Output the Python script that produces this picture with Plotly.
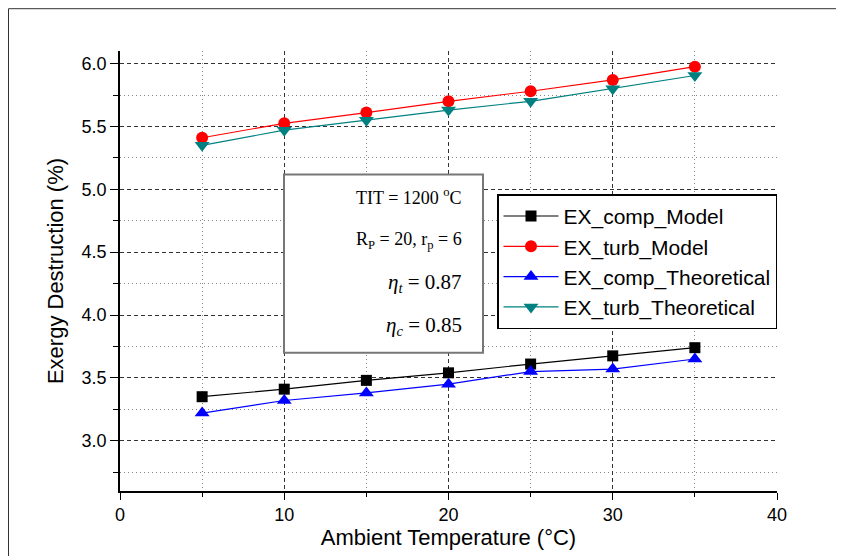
import plotly.graph_objects as go

temps = [5, 10, 15, 20, 25, 30, 35]
ex_comp_model = [3.35, 3.41, 3.48, 3.54, 3.61, 3.675, 3.74]
ex_turb_model = [5.41, 5.525, 5.61, 5.70, 5.78, 5.87, 5.975]
ex_comp_theo = [3.22, 3.32, 3.38, 3.45, 3.55, 3.57, 3.65]
ex_turb_theo = [5.35, 5.47, 5.55, 5.63, 5.70, 5.80, 5.905]

series = [
    ("EX_comp_Model", ex_comp_model, "black", "square", 11),
    ("EX_turb_Model", ex_turb_model, "red", "circle", 12),
    ("EX_comp_Theoretical", ex_comp_theo, "blue", "triangle-up", 13),
    ("EX_turb_Theoretical", ex_turb_theo, "#008080", "triangle-down", 13),
]

fig = go.Figure()
for name, vals, col, sym, sz in series:
    fig.add_trace(go.Scatter(
        x=temps, y=vals, name=name, mode="lines+markers",
        line=dict(color=col, width=1.2),
        marker=dict(color=col, symbol=sym, size=sz),
    ))

# page body has an 8px margin; figure coordinates are window - 8
OFF = 8
W, H = 836, 548
L, T = 120 - OFF, 51 - OFF
R = W - (777 - OFF)
B = H - (493 - OFF)
pw, ph = W - L - R, H - T - B

def px(x):
    return (x - OFF - L) / pw

def py(y):
    return (H - B - (y - OFF)) / ph

fig.update_layout(
    width=W, height=H,
    margin=dict(l=L, r=R, t=T, b=B),
    paper_bgcolor="white", plot_bgcolor="white",
    font=dict(family="Liberation Sans, Arial, sans-serif", color="black"),
    showlegend=True,
    legend=dict(
        x=px(497), y=py(195), xanchor="left", yanchor="top",
        bordercolor="black", borderwidth=1.5, bgcolor="white",
        font=dict(size=21, family="Liberation Sans, Arial, sans-serif"),
        tracegroupgap=0, itemwidth=55,
    ),
)

MAJ_DASH = "4px,3px"
MIN_DASH = "1px,3px"

fig.update_xaxes(
    range=[0, 40], tickmode="linear", tick0=0, dtick=10,
    showline=True, linecolor="black", linewidth=1.5,
    ticks="outside", ticklen=7, tickwidth=1.2, tickcolor="black",
    tickfont=dict(size=18),
    showgrid=True, gridcolor="#333", griddash=MAJ_DASH, gridwidth=1,
    zeroline=False,
    minor=dict(dtick=5, tick0=0, ticks="outside", ticklen=4, tickcolor="black",
               showgrid=True, gridcolor="#888", griddash=MIN_DASH, gridwidth=1),
    title=dict(text="Ambient Temperature (°C)", font=dict(size=22), standoff=3),
)
fig.update_yaxes(
    range=[2.6, 6.1], tickmode="linear", tick0=3.0, dtick=0.5, tickformat=".1f",
    showline=True, linecolor="black", linewidth=1.5,
    ticks="outside", ticklen=8, tickwidth=1.2, tickcolor="black",
    tickfont=dict(size=18),
    showgrid=True, gridcolor="#333", griddash=MAJ_DASH, gridwidth=1,
    zeroline=False,
    minor=dict(dtick=0.25, tick0=2.75, ticks="outside", ticklen=5, tickcolor="black",
               showgrid=True, gridcolor="#888", griddash=MIN_DASH, gridwidth=1),
    title=dict(text="Exergy Destruction (%)", font=dict(size=22), standoff=12),
)

# outer frame
fig.add_shape(type="rect", xref="paper", yref="paper",
              x0=px(8.5), x1=px(870), y0=py(580), y1=py(8.5),
              line=dict(color="#333", width=1), layer="below")

# parameter text box
fig.add_shape(type="rect", xref="paper", yref="paper",
              x0=px(284), x1=px(483), y0=py(354), y1=py(175),
              line=dict(color="#777", width=2), fillcolor="white", layer="above")

box_lines = [
    ("TIT = 1200 <sup>o</sup>C", 197, 18),
    ("R<sub>P</sub> = 20, r<sub>p</sub> = 6", 241, 18),
    ("<i>η</i><sub><i>t</i></sub> = 0.87", 284, 21),
    ("<i>η</i><sub><i>c</i></sub> = 0.85", 327, 21),
]
for txt, yy, fs in box_lines:
    fig.add_annotation(xref="paper", yref="paper", x=px(464), y=py(yy),
                       xanchor="right", yanchor="middle", showarrow=False,
                       text=txt, font=dict(family="Liberation Serif, Times New Roman, serif", size=fs, color="black"))

fig.write_html("out.html")
